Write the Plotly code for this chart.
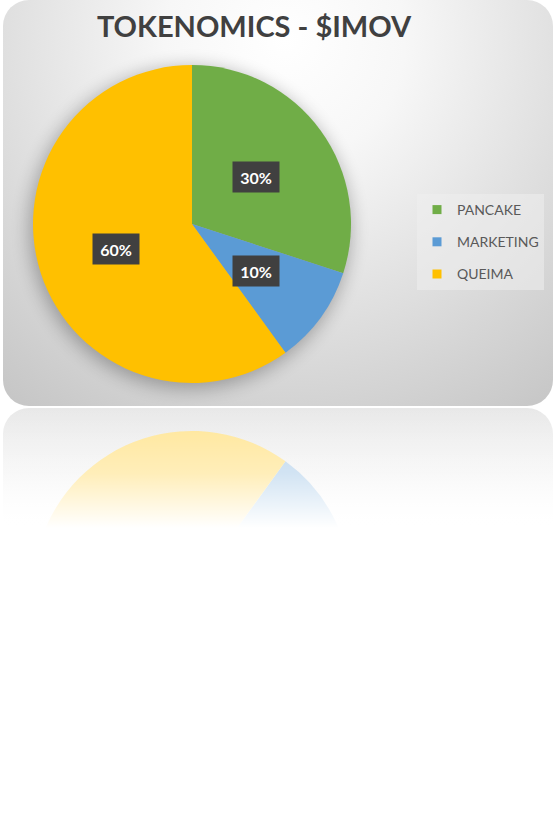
import base64
import math
import plotly.graph_objects as go

# ---- data ----
labels = ["PANCAKE", "MARKETING", "QUEIMA"]
values = [30, 10, 60]
colors = ["#70AD47", "#5B9BD5", "#FFC000"]
title_text = "TOKENOMICS - $IMOV"

W, H = 557, 815

# pie geometry (pixels)
cx, cy, R = 192, 224, 159
mirror_y = 407
rcy = 2 * mirror_y - cy

def xdom(c, r):
    return [(c - r) / W, (c + r) / W]

def ydom(c, r):
    return [1 - (c + r) / H, 1 - (c - r) / H]

def washed(hexcol, a=0.42):
    h = hexcol.lstrip("#")
    rgb = [int(h[i:i + 2], 16) for i in (0, 2, 4)]
    r, g, b = [round(255 * (1 - a) + c * a) for c in rgb]
    return f"rgb({r},{g},{b})"

# ---- background (card, pie shadow, reflection card) ----
bg_svg = f"""<svg xmlns="http://www.w3.org/2000/svg" width="{W}" height="{H}" viewBox="0 0 {W} {H}" preserveAspectRatio="none">
<defs>
<radialGradient id="bg" cx="285" cy="40" r="480" gradientUnits="userSpaceOnUse">
<stop offset="0" stop-color="#ffffff"/>
<stop offset="0.25" stop-color="#f7f7f7"/>
<stop offset="1" stop-color="#c2c2c2"/>
</radialGradient>
<linearGradient id="rf" x1="0" y1="408" x2="0" y2="530" gradientUnits="userSpaceOnUse">
<stop offset="0" stop-color="#e8e8e8"/>
<stop offset="1" stop-color="#ffffff"/>
</linearGradient>
<filter id="blur" x="-50%" y="-50%" width="200%" height="200%"><feGaussianBlur stdDeviation="9"/></filter>
<clipPath id="card"><rect x="3" y="0" width="550" height="406" rx="26"/></clipPath>
</defs>
<rect x="3" y="408" width="550" height="300" rx="26" fill="url(#rf)"/>
<rect x="3" y="0" width="550" height="406" rx="26" fill="url(#bg)"/>
<g clip-path="url(#card)"><circle cx="{cx - 2}" cy="{cy + 4}" r="{R + 2}" fill="#000" opacity="0.28" filter="url(#blur)"/></g>
</svg>"""

fade_svg = f"""<svg xmlns="http://www.w3.org/2000/svg" width="{W}" height="{H}" viewBox="0 0 {W} {H}" preserveAspectRatio="none">
<defs>
<linearGradient id="fd" x1="0" y1="407" x2="0" y2="528" gradientUnits="userSpaceOnUse">
<stop offset="0" stop-color="#ffffff" stop-opacity="0"/>
<stop offset="0.55" stop-color="#ffffff" stop-opacity="0.35"/>
<stop offset="1" stop-color="#ffffff" stop-opacity="1"/>
</linearGradient>
</defs>
<rect x="0" y="407" width="{W}" height="{H - 407}" fill="url(#fd)"/>
</svg>"""

def uri(s):
    return "data:image/svg+xml;base64," + base64.b64encode(s.encode()).decode()

fig = go.Figure()

# reflection pie (mirrored vertically): counterclockwise, first slice ending at 6 o'clock
total = sum(values)
mirror_rotation = 180 - values[0] / total * 360
fig.add_trace(go.Pie(
    labels=labels, values=values, sort=False,
    direction="counterclockwise", rotation=mirror_rotation,
    marker=dict(colors=[washed(c) for c in colors], line=dict(width=0)),
    textinfo="none", hoverinfo="skip", showlegend=False,
    domain=dict(x=xdom(cx, R), y=ydom(rcy, R)),
))

# main pie
fig.add_trace(go.Pie(
    labels=labels, values=values, sort=False,
    direction="clockwise", rotation=0,
    marker=dict(colors=colors, line=dict(width=0)),
    textinfo="none", hoverinfo="label+percent", showlegend=False,
    domain=dict(x=xdom(cx, R), y=ydom(cy, R)),
))

# legend entries
for i, (lab, col) in enumerate(zip(labels, colors)):
    fig.add_trace(go.Scatter(
        x=[None], y=[None], mode="markers", name=lab,
        marker=dict(symbol="square", size=9, color=col),
        legendgroup=f"g{i}", showlegend=True,
    ))

# data labels in dark boxes
annotations = []
cum = 0
for v in values:
    mid = (cum + v / 2) / total * 2 * math.pi
    cum += v
    px = cx + 0.5 * R * math.sin(mid)
    py = cy - 0.5 * R * math.cos(mid)
    annotations.append(dict(
        x=px / W, y=1 - py / H, xref="paper", yref="paper",
        text=f"{round(v / total * 100)}%", showarrow=False,
        font=dict(family="Lato", size=16, color="white", weight="bold"),
        bgcolor="#404040", borderpad=5, width=36, height=20,
        xanchor="center", yanchor="middle",
    ))

fig.update_layout(
    width=W, height=H,
    margin=dict(l=0, r=0, t=0, b=0),
    paper_bgcolor="white", plot_bgcolor="rgba(0,0,0,0)",
    title=dict(text=title_text, x=254 / W, y=1 - 27 / H,
               xanchor="center", yanchor="middle",
               font=dict(family="Lato", size=29, color="#404040", weight="bold")),
    xaxis=dict(visible=False), yaxis=dict(visible=False),
    legend=dict(x=417 / W, y=1 - 194 / H, xanchor="left", yanchor="top",
                bgcolor="rgba(238,238,238,0.55)", tracegroupgap=11,
                font=dict(family="Lato", size=14, color="#595959")),
    annotations=annotations,
    images=[
        dict(source=uri(bg_svg), xref="paper", yref="paper", x=0, y=1,
             sizex=1, sizey=1, sizing="stretch", xanchor="left", yanchor="top",
             layer="below"),
        dict(source=uri(fade_svg), xref="paper", yref="paper", x=0, y=1,
             sizex=1, sizey=1, sizing="stretch", xanchor="left", yanchor="top",
             layer="above"),
    ],
)

fig.write_html("out.html", config={"displayModeBar": False},
               post_script="document.body.style.margin='0';")
